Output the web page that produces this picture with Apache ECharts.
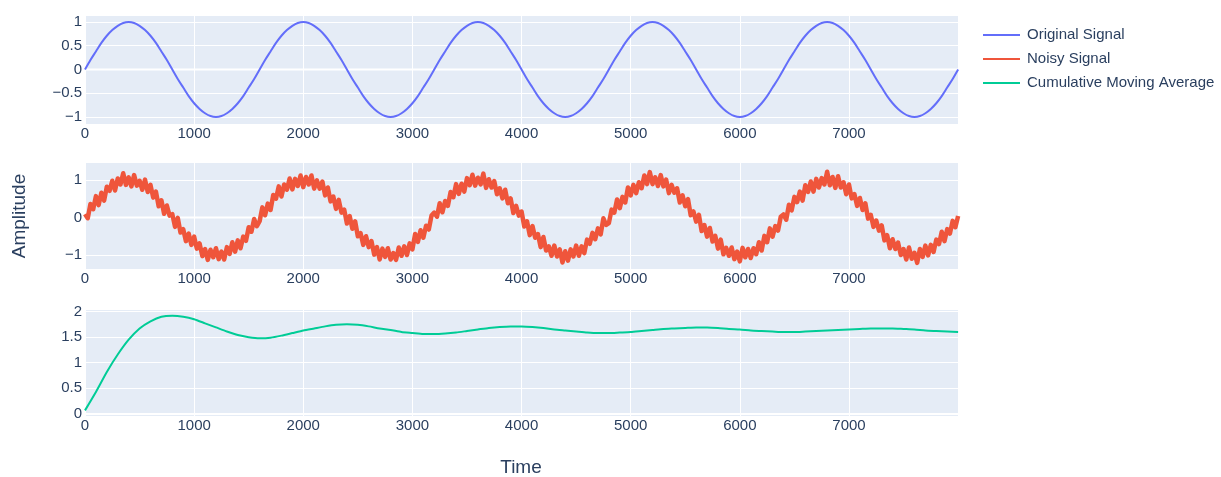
<!DOCTYPE html>
<html>
<head>
<meta charset="utf-8">
<script src="https://cdn.jsdelivr.net/npm/echarts@6/dist/echarts.min.js"></script>
<style>
html,body{margin:0;padding:0;background:#fff;}
#chart{width:1221px;height:477px;}
</style>
</head>
<body>
<div id="chart"></div>
<script>
// ---- data ----
const legendNames = ['Original Signal', 'Noisy Signal', 'Cumulative Moving Average'];
const xTicks = [0, 1000, 2000, 3000, 4000, 5000, 6000, 7000];
const yTicksOriginal = [-1, -0.5, 0, 0.5, 1];
const yTicksNoisy = [-1, 0, 1];
const yTicksCma = [0, 0.5, 1, 1.5, 2];

const originalStep = 50;
const originalSignal = [
  0,0.2,0.38,0.56,0.71,0.83,0.92,0.98,1,0.98,0.92,0.83,0.71,0.56,0.38,0.2,0,-0.2,-0.38,-0.56,-0.71,-0.83,-0.92,-0.98,-1,-0.98,-0.92,-0.83,-0.71,-0.56,-0.38,-0.2,
  0,0.2,0.38,0.56,0.71,0.83,0.92,0.98,1,0.98,0.92,0.83,0.71,0.56,0.38,0.2,0,-0.2,-0.38,-0.56,-0.71,-0.83,-0.92,-0.98,-1,-0.98,-0.92,-0.83,-0.71,-0.56,-0.38,-0.2,
  0,0.2,0.38,0.56,0.71,0.83,0.92,0.98,1,0.98,0.92,0.83,0.71,0.56,0.38,0.2,0,-0.2,-0.38,-0.56,-0.71,-0.83,-0.92,-0.98,-1,-0.98,-0.92,-0.83,-0.71,-0.56,-0.38,-0.2,
  0,0.2,0.38,0.56,0.71,0.83,0.92,0.98,1,0.98,0.92,0.83,0.71,0.56,0.38,0.2,0,-0.2,-0.38,-0.56,-0.71,-0.83,-0.92,-0.98,-1,-0.98,-0.92,-0.83,-0.71,-0.56,-0.38,-0.2,
  0,0.2,0.38,0.56,0.71,0.83,0.92,0.98,1,0.98,0.92,0.83,0.71,0.56,0.38,0.2,0,-0.2,-0.38,-0.56,-0.71,-0.83,-0.92,-0.98,-1,-0.98,-0.92,-0.83,-0.71,-0.56,-0.38,-0.2,
  0
];

const noisyStep = 25;
const noisySignal = [
  0.09,-0.02,0.36,0.22,0.57,0.33,0.66,0.45,0.82,0.71,0.98,0.72,1.04,0.88,1.18,0.87,
  1.07,0.83,1.13,0.85,0.98,0.74,1.01,0.68,0.87,0.53,0.69,0.30,0.46,0.10,0.32,0.05,
  0.09,-0.25,-0.01,-0.40,-0.31,-0.63,-0.43,-0.73,-0.51,-0.83,-0.69,-1.03,-0.84,-1.13,-0.86,-1.06,
  -0.82,-1.11,-0.91,-1.12,-0.79,-0.97,-0.66,-0.91,-0.61,-0.82,-0.51,-0.62,-0.26,-0.38,-0.04,-0.23,
  -0.10,0.27,0.06,0.37,0.20,0.60,0.50,0.83,0.56,0.88,0.74,1.04,0.75,1.03,0.84,1.12,
  0.81,1.08,0.88,1.12,0.77,0.99,0.77,0.96,0.59,0.80,0.43,0.56,0.23,0.47,0.13,0.21,
  -0.16,0.04,-0.30,-0.10,-0.50,-0.42,-0.73,-0.50,-0.79,-0.63,-0.99,-0.79,-1.12,-0.83,-1.05,-0.82,
  -1.12,-0.95,-1.13,-0.80,-1.02,-0.77,-1.00,-0.69,-0.85,-0.44,-0.65,-0.34,-0.54,-0.22,-0.32,0.05,
  0.13,0.02,0.38,0.14,0.44,0.31,0.68,0.54,0.89,0.63,0.90,0.69,1.05,0.86,1.14,0.85,
  1.06,0.88,1.17,0.79,1.02,0.80,0.97,0.62,0.78,0.51,0.74,0.38,0.51,0.12,0.31,0.05,
  0.16,-0.24,-0.10,-0.47,-0.23,-0.54,-0.44,-0.79,-0.52,-0.88,-0.77,-1.02,-0.75,-1.04,-0.85,-1.20,
  -0.90,-1.15,-0.85,-1.04,-0.75,-1.02,-0.77,-0.95,-0.59,-0.70,-0.41,-0.58,-0.29,-0.45,-0.02,-0.20,
  -0.15,0.21,0.13,0.48,0.25,0.55,0.40,0.80,0.59,0.87,0.65,0.94,0.78,1.12,0.89,1.21,
  0.89,1.07,0.84,1.13,0.83,1.01,0.65,0.87,0.66,0.78,0.40,0.59,0.30,0.49,0.06,0.16,
  -0.11,0.07,-0.36,-0.20,-0.51,-0.28,-0.64,-0.49,-0.83,-0.59,-0.98,-0.81,-1.02,-0.80,-1.11,-0.91,
  -1.17,-0.81,-1.06,-0.84,-1.08,-0.82,-0.98,-0.66,-0.88,-0.49,-0.66,-0.29,-0.51,-0.23,-0.35,0.02,
  0.08,-0.06,0.34,0.19,0.55,0.41,0.69,0.45,0.86,0.68,0.96,0.69,1.03,0.80,1.05,0.88,
  1.22,0.86,1.08,0.79,1.10,0.80,0.94,0.62,0.88,0.51,0.62,0.31,0.52,0.20,0.38,-0.03,
  0.07,-0.25,-0.08,-0.35,-0.21,-0.61,-0.47,-0.82,-0.58,-0.84,-0.67,-1.00,-0.84,-1.12,-0.80,-1.10,
  -0.94,-1.21,-0.84,-1.05,-0.75,-1.01,-0.73,-0.92,-0.59,-0.71,-0.38,-0.63,-0.31,-0.43,-0.09,-0.26,
  0.04
];

const cmaStep = 100;
const cumulativeMovingAverage = [
  0.07,0.43,0.82,1.16,1.45,1.67,1.81,1.90,1.92,1.90,1.85,1.77,1.69,1.61,1.54,1.50,
  1.48,1.49,1.53,1.58,1.63,1.67,1.71,1.74,1.75,1.74,1.71,1.67,1.64,1.60,1.58,1.56,
  1.56,1.57,1.59,1.62,1.65,1.68,1.70,1.71,1.71,1.70,1.68,1.65,1.63,1.61,1.59,1.58,
  1.58,1.59,1.60,1.62,1.64,1.66,1.67,1.68,1.69,1.69,1.68,1.66,1.65,1.63,1.62,1.61,
  1.60,1.60,1.61,1.62,1.63,1.64,1.65,1.66,1.67,1.67,1.67,1.66,1.65,1.63,1.62,1.61,
  1.60
];

// ---- chart ----
const TXT = '#2a3f5f';
const FONT = '"Liberation Sans", Arial, sans-serif';
const BG = '#E5ECF6';
const colors = ['#636efa', '#EF553B', '#00cc96'];

const toPairs = (arr, step) => arr.map((v, i) => [i * step, v]);
const fmt = v => (v < 0 ? '\u2212' + Math.abs(v) : String(v));

const grids = [
  {left: 85, top: 16, width: 873, height: 108, ymin: -1.147, ymax: 1.126, yt: yTicksOriginal},
  {left: 85, top: 163, width: 873, height: 106, ymin: -1.373, ymax: 1.453, yt: yTicksNoisy},
  {left: 85, top: 310, width: 873, height: 106, ymin: -0.04, ymax: 2.03, yt: yTicksCma}
];

const option = {
  animation: false,
  backgroundColor: '#fff',
  textStyle: {fontFamily: FONT, color: TXT},
  legend: {
    data: legendNames,
    orient: 'vertical',
    left: 983,
    top: 26,
    padding: 0,
    icon: 'rect',
    itemWidth: 37,
    itemHeight: 2,
    itemGap: 6,
    textStyle: {fontFamily: FONT, fontSize: 15, color: TXT, lineHeight: 18, padding: [0, 0, 0, 2]},
    selectedMode: false
  },
  grid: grids.map(g => ({left: g.left, top: g.top, width: g.width, height: g.height,
    show: true, backgroundColor: BG, borderWidth: 0})),
  xAxis: grids.map((g, i) => ({
    type: 'value', gridIndex: i, min: 0, max: 7999,
    axisLine: {show: false},
    axisTick: {show: false, customValues: xTicks},
    axisLabel: {customValues: xTicks, color: TXT, fontFamily: FONT, fontSize: 15, margin: 2,
      formatter: v => String(v)},
    splitLine: {show: true, lineStyle: {color: '#fff', width: 1}}
  })),
  yAxis: grids.map((g, i) => ({
    type: 'value', gridIndex: i, min: g.ymin, max: g.ymax,
    axisLine: {show: false},
    axisTick: {show: false, customValues: g.yt},
    axisLabel: {customValues: g.yt, color: TXT, fontFamily: FONT, fontSize: 15, margin: 3, formatter: fmt},
    splitLine: {show: true, lineStyle: {color: '#fff', width: 1}}
  })),
  series: [],
  graphic: [
    {type: 'text', x: 20, y: 216, rotation: Math.PI / 2,
      style: {text: 'Amplitude', fill: TXT, font: '19px ' + FONT, textAlign: 'center', textVerticalAlign: 'middle'}},
    {type: 'text', x: 521, y: 468,
      style: {text: 'Time', fill: TXT, font: '19px ' + FONT, textAlign: 'center', textVerticalAlign: 'middle'}}
  ]
};

// zero lines (white, thicker) drawn beneath traces
grids.forEach((g, i) => {
  option.series.push({
    type: 'line', xAxisIndex: i, yAxisIndex: i, silent: true, z: 1,
    data: [[0, 0], [7999, 0]], showSymbol: false,
    lineStyle: {color: '#fff', width: 2}, tooltip: {show: false}
  });
  option.series.push({
    type: 'line', xAxisIndex: i, yAxisIndex: i, silent: true, z: 1,
    data: [[0, g.ymin], [0, g.ymax]], showSymbol: false,
    lineStyle: {color: '#fff', width: 2}, tooltip: {show: false}
  });
});

option.series.push(
  {name: legendNames[0], type: 'line', xAxisIndex: 0, yAxisIndex: 0, z: 3,
    data: toPairs(originalSignal, originalStep), showSymbol: false, smooth: 0.3,
    lineStyle: {color: colors[0], width: 2}, itemStyle: {color: colors[0]}},
  {name: legendNames[1], type: 'line', xAxisIndex: 1, yAxisIndex: 1, z: 3,
    data: toPairs(noisySignal, noisyStep), showSymbol: false, sampling: null,
    lineStyle: {color: colors[1], width: 4.5, join: 'round'}, itemStyle: {color: colors[1]}},
  {name: legendNames[2], type: 'line', xAxisIndex: 2, yAxisIndex: 2, z: 3,
    data: toPairs(cumulativeMovingAverage, cmaStep), showSymbol: false, smooth: 0.2,
    lineStyle: {color: colors[2], width: 2}, itemStyle: {color: colors[2]}}
);

const chart = echarts.init(document.getElementById('chart'), null, {renderer: 'canvas'});
chart.setOption(option);
</script>
</body>
</html>
